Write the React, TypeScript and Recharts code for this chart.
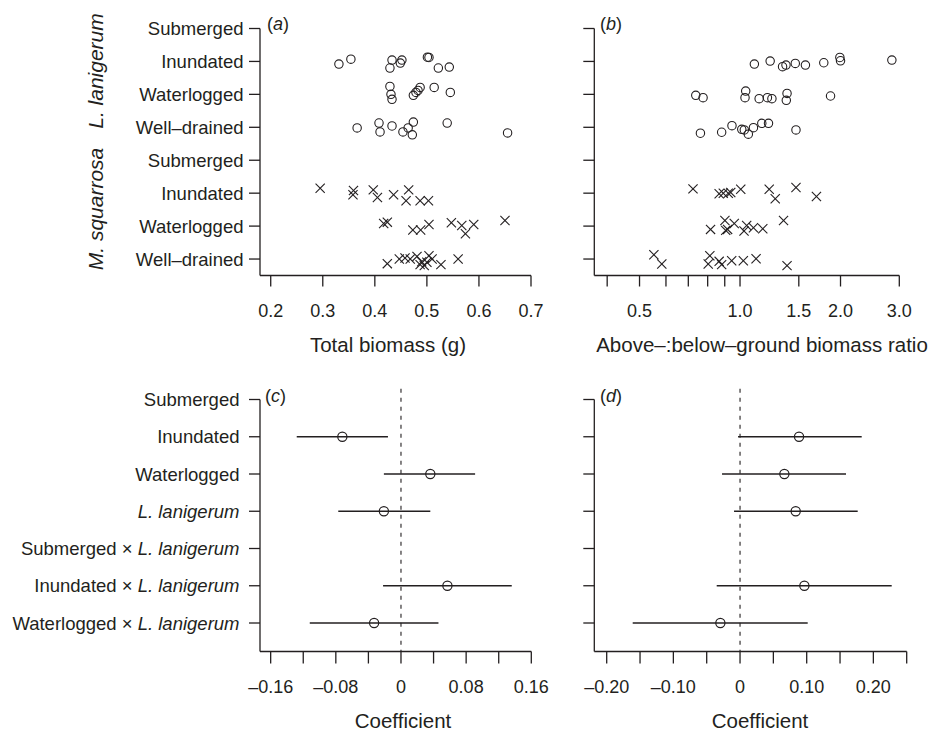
import React from 'react';
import { ScatterChart, Scatter, XAxis, YAxis, ErrorBar, ReferenceLine } from 'recharts';

const FONT = '"Liberation Sans", Arial, Helvetica, sans-serif';
const INK = '#231f20';

// rows of panels (a) and (b), top to bottom
const rowLabels = ['Submerged', 'Inundated', 'Waterlogged', 'Well–drained', 'Submerged', 'Inundated', 'Waterlogged', 'Well–drained'];
const rowValues = [8, 7, 6, 5, 4, 3, 2, 1];

// (a) total biomass (g): [value, vertical jitter in row units]
const aLanInundated = [[0.331, -0.08], [0.354, 0.07], [0.433, 0.04], [0.429, -0.2], [0.452, 0.04], [0.449, -0.05], [0.501, 0.13], [0.504, 0.12], [0.522, -0.2], [0.543, -0.17]];
const aLanWaterlogged = [[0.429, 0.24], [0.431, 0.0], [0.433, -0.15], [0.474, -0.03], [0.479, 0.06], [0.483, 0.12], [0.487, 0.21], [0.514, 0.21], [0.545, 0.06]];
const aLanWellDrained = [[0.366, -0.02], [0.408, 0.13], [0.41, -0.14], [0.433, 0.04], [0.454, -0.14], [0.464, -0.02], [0.474, 0.16], [0.472, -0.23], [0.539, 0.13], [0.655, -0.17]];
const aSqInundated = [[0.295, 0.15], [0.359, 0.08], [0.358, -0.05], [0.397, 0.1], [0.405, -0.13], [0.436, -0.05], [0.465, 0.1], [0.46, -0.23], [0.487, -0.23], [0.503, -0.23]];
const aSqWaterlogged = [[0.417, 0.08], [0.424, 0.12], [0.473, -0.12], [0.488, -0.12], [0.504, 0.05], [0.547, 0.1], [0.567, 0.02], [0.574, -0.23], [0.59, 0.05], [0.65, 0.17]];
const aSqWellDrained = [[0.424, -0.14], [0.447, 0.0], [0.458, 0.03], [0.468, 0.0], [0.481, 0.08], [0.487, -0.17], [0.49, -0.08], [0.495, -0.2], [0.5, -0.1], [0.504, 0.1], [0.51, 0.0], [0.527, -0.17], [0.56, 0.0]];

// (b) above:below-ground biomass ratio
const bLanInundated = [[1.104, -0.08], [1.231, 0.01], [1.341, -0.16], [1.373, -0.11], [1.464, -0.06], [1.57, -0.11], [1.782, -0.04], [1.991, 0.12], [2.0, 0.02], [2.85, 0.04]];
const bLanWaterlogged = [[0.737, -0.03], [0.775, -0.1], [1.04, 0.1], [1.035, -0.1], [1.141, -0.13], [1.208, -0.1], [1.246, -0.13], [1.383, 0.03], [1.376, -0.18], [1.867, -0.05]];
const bLanWellDrained = [[0.761, -0.18], [0.881, -0.15], [0.946, 0.05], [1.012, -0.06], [1.03, -0.08], [1.059, -0.21], [1.097, -0.01], [1.162, 0.12], [1.217, 0.12], [1.471, -0.08]];
const bSqInundated = [[0.723, 0.13], [0.866, -0.02], [0.891, 0.0], [0.922, 0.0], [0.938, 0.02], [1.005, 0.12], [1.223, 0.12], [1.275, -0.17], [1.471, 0.17], [1.694, -0.1]];
const bSqWaterlogged = [[0.816, -0.1], [0.901, 0.17], [0.906, -0.13], [0.918, -0.1], [0.961, 0.08], [1.028, -0.15], [1.047, 0.02], [1.097, -0.05], [1.17, -0.08], [1.35, 0.17]];
const bSqWellDrained = [[0.552, 0.13], [0.583, -0.15], [0.812, 0.1], [0.803, -0.15], [0.866, -0.07], [0.881, -0.17], [0.944, -0.05], [1.023, -0.05], [1.117, 0.01], [1.383, -0.2]];

const aXTicks = [0.2, 0.3, 0.4, 0.5, 0.6, 0.7];
const aXLabels = ['0.2', '0.3', '0.4', '0.5', '0.6', '0.7'];
const bXTicks = [0.4, 0.5, 0.6, 0.7, 0.8, 0.9, 1, 1.5, 2, 3];
const bXLabels = ['', '0.5', '', '', '', '', '1.0', '1.5', '2.0', '3.0'];

// (c) and (d) coefficients, top to bottom
const coefPlain = ['Submerged', 'Inundated', 'Waterlogged', '', 'Submerged × ', 'Inundated × ', 'Waterlogged × '];
const coefItalic = ['', '', '', 'L. lanigerum', 'L. lanigerum', 'L. lanigerum', 'L. lanigerum'];
const coefValues = [7, 6, 5, 4, 3, 2, 1];

const cEst = [null, -0.072, 0.036, -0.021, null, 0.057, -0.033];
const cLow = [null, -0.128, -0.021, -0.077, null, -0.022, -0.112];
const cHigh = [null, -0.016, 0.091, 0.036, null, 0.136, 0.046];
const dEst = [null, 0.0885, 0.0665, 0.0835, null, 0.0965, -0.0295];
const dLow = [null, -0.003, -0.027, -0.009, null, -0.035, -0.161];
const dHigh = [null, 0.1825, 0.159, 0.1765, null, 0.2275, 0.1015];

const cXTicks = [-0.16, -0.12, -0.08, -0.04, 0, 0.04, 0.08, 0.12, 0.16];
const cXLabels = ['–0.16', '', '–0.08', '', '0', '', '0.08', '', '0.16'];
const dXTicks = [-0.2, -0.15, -0.1, -0.05, 0, 0.05, 0.1, 0.15, 0.2, 0.25];
const dXLabels = ['–0.20', '', '–0.10', '', '0', '', '0.10', '', '0.20', ''];

const toPoints = (pts: number[][], row: number) => pts.map(([x, j]) => ({ x, y: row + j }));

const aLan = [...toPoints(aLanInundated, 7), ...toPoints(aLanWaterlogged, 6), ...toPoints(aLanWellDrained, 5)];
const aSq = [...toPoints(aSqInundated, 3), ...toPoints(aSqWaterlogged, 2), ...toPoints(aSqWellDrained, 1)];
const bLan = [...toPoints(bLanInundated, 7), ...toPoints(bLanWaterlogged, 6), ...toPoints(bLanWellDrained, 5)];
const bSq = [...toPoints(bSqInundated, 3), ...toPoints(bSqWaterlogged, 2), ...toPoints(bSqWellDrained, 1)];

const coefPoints = (est: any[], low: any[], high: any[]) =>
  coefValues
    .map((y, i) => (est[i] == null ? null : { x: est[i], y, err: [est[i] - low[i], high[i] - est[i]] }))
    .filter(Boolean);

const cData = coefPoints(cEst, cLow, cHigh);
const dData = coefPoints(dEst, dLow, dHigh);

const OpenCircle = (props: any) => (
  <circle cx={props.cx} cy={props.cy} r={4.2} fill="none" stroke={INK} strokeWidth={1.1} />
);
const BigCircle = (props: any) => (
  <circle cx={props.cx} cy={props.cy} r={4.6} fill="none" stroke={INK} strokeWidth={1.2} />
);
const Cross = (props: any) => {
  const { cx, cy } = props;
  const s = 4.6;
  return (
    <g stroke={INK} strokeWidth={1.1}>
      <line x1={cx - s} y1={cy - s} x2={cx + s} y2={cy + s} />
      <line x1={cx - s} y1={cy + s} x2={cx + s} y2={cy - s} />
    </g>
  );
};

const RowTick = ({ x, y, payload }: any) => (
  <text x={x} y={y} dy="0.355em" textAnchor="end" fontSize={18.5} fill={INK} fontFamily={FONT}>
    {rowLabels[rowValues.indexOf(payload.value)]}
  </text>
);

const CoefTick = ({ x, y, payload }: any) => {
  const i = coefValues.indexOf(payload.value);
  return (
    <text x={x} y={y} dy="0.355em" textAnchor="end" fontSize={18.5} fill={INK} fontFamily={FONT}>
      {coefPlain[i] && <tspan>{coefPlain[i]}</tspan>}
      {coefItalic[i] && <tspan fontStyle="italic">{coefItalic[i]}</tspan>}
    </text>
  );
};

const axisStyle = { stroke: INK, strokeWidth: 1.3 };
const tickFont = { fontSize: 18, fill: INK, fontFamily: FONT };
const blank = () => '';

export default function App() {
  return (
    <div style={{ position: 'absolute', left: 0, top: 0, width: 934, height: 731, background: '#fff', fontFamily: FONT }}>
      {/* (a) */}
      <div style={{ position: 'absolute', left: 0, top: 0 }}>
        <ScatterChart width={560} height={380} margin={{ top: 28.5, right: 29, bottom: 0, left: 0 }}>
          <XAxis type="number" dataKey="x" domain={[0.1794, 0.7]} ticks={aXTicks} interval={0} allowDataOverflow
            height={104.5} tickSize={11} tickMargin={18} axisLine={axisStyle} tickLine={axisStyle} tick={tickFont}
            tickFormatter={(v: number) => aXLabels[aXTicks.indexOf(v)]} />
          <YAxis type="number" dataKey="y" domain={[0.5, 8]} ticks={rowValues} interval={0} allowDataOverflow
            width={260} tickSize={11} tickMargin={5.5} axisLine={axisStyle} tickLine={axisStyle}
            tick={(p: any) => <RowTick {...p} />} />
          <Scatter data={aLan} shape={OpenCircle} isAnimationActive={false} />
          <Scatter data={aSq} shape={Cross} isAnimationActive={false} />
        </ScatterChart>
      </div>

      {/* (b) */}
      <div style={{ position: 'absolute', left: 560, top: 0 }}>
        <ScatterChart width={374} height={380} margin={{ top: 28.5, right: 34.7, bottom: 0, left: 0 }}>
          <XAxis type="number" dataKey="x" scale="log" domain={[0.366, 3]} ticks={bXTicks} interval={0} allowDataOverflow
            height={104.5} tickSize={11} tickMargin={18} axisLine={axisStyle} tickLine={axisStyle} tick={tickFont}
            tickFormatter={(v: number) => bXLabels[bXTicks.indexOf(v)]} />
          <YAxis type="number" dataKey="y" domain={[0.5, 8]} ticks={rowValues} interval={0} allowDataOverflow
            width={34.3} tickSize={11} axisLine={axisStyle} tickLine={axisStyle} tick={tickFont} tickFormatter={blank} />
          <Scatter data={bLan} shape={OpenCircle} isAnimationActive={false} />
          <Scatter data={bSq} shape={Cross} isAnimationActive={false} />
        </ScatterChart>
      </div>

      {/* (c) */}
      <div style={{ position: 'absolute', left: 0, top: 380 }}>
        <ScatterChart width={560} height={351} margin={{ top: 19.5, right: 28.7, bottom: 0, left: 0 }}>
          <XAxis type="number" dataKey="x" domain={[-0.1731, 0.16]} ticks={cXTicks} interval={0} allowDataOverflow
            height={79.5} tickSize={12} tickMargin={16.5} axisLine={axisStyle} tickLine={axisStyle} tick={tickFont}
            tickFormatter={(v: number) => cXLabels[cXTicks.indexOf(v)]} />
          <YAxis type="number" dataKey="y" domain={[0.235, 7]} ticks={coefValues} interval={0} allowDataOverflow
            width={260} tickSize={11} tickMargin={9.5} axisLine={axisStyle} tickLine={axisStyle}
            tick={(p: any) => <CoefTick {...p} />} />
          <ReferenceLine segment={[{ x: 0, y: 7.29 }, { x: 0, y: 0.235 }]} stroke={INK} strokeWidth={1.1}
            strokeDasharray="4 5" ifOverflow="visible" />
          <Scatter data={cData} shape={BigCircle} isAnimationActive={false}>
            <ErrorBar dataKey="err" direction="x" width={0} stroke={INK} strokeWidth={1.3} />
          </Scatter>
        </ScatterChart>
      </div>

      {/* (d) */}
      <div style={{ position: 'absolute', left: 560, top: 380 }}>
        <ScatterChart width={374} height={351} margin={{ top: 19.5, right: 27.3, bottom: 0, left: 0 }}>
          <XAxis type="number" dataKey="x" domain={[-0.2186, 0.25]} ticks={dXTicks} interval={0} allowDataOverflow
            height={79.5} tickSize={12} tickMargin={16.5} axisLine={axisStyle} tickLine={axisStyle} tick={tickFont}
            tickFormatter={(v: number) => dXLabels[dXTicks.indexOf(v)]} />
          <YAxis type="number" dataKey="y" domain={[0.235, 7]} ticks={coefValues} interval={0} allowDataOverflow
            width={34.3} tickSize={11} axisLine={axisStyle} tickLine={axisStyle} tick={tickFont} tickFormatter={blank} />
          <ReferenceLine segment={[{ x: 0, y: 7.29 }, { x: 0, y: 0.235 }]} stroke={INK} strokeWidth={1.1}
            strokeDasharray="4 5" ifOverflow="visible" />
          <Scatter data={dData} shape={BigCircle} isAnimationActive={false}>
            <ErrorBar dataKey="err" direction="x" width={0} stroke={INK} strokeWidth={1.3} />
          </Scatter>
        </ScatterChart>
      </div>

      {/* titles and panel letters */}
      <svg width={934} height={731} style={{ position: 'absolute', left: 0, top: 0, pointerEvents: 'none' }}
        fontFamily={FONT} fill={INK}>
        <text x={267} y={29.5} fontSize={18}>(<tspan fontStyle="italic">a</tspan>)</text>
        <text x={600} y={29.5} fontSize={18}>(<tspan fontStyle="italic">b</tspan>)</text>
        <text x={265} y={401.5} fontSize={18}>(<tspan fontStyle="italic">c</tspan>)</text>
        <text x={600} y={401.5} fontSize={18}>(<tspan fontStyle="italic">d</tspan>)</text>
        <text x={388} y={352} fontSize={20.5} textAnchor="middle">Total biomass (g)</text>
        <text x={762} y={352} fontSize={20.5} textAnchor="middle">Above–:below–ground biomass ratio</text>
        <text x={403} y={728} fontSize={20.5} textAnchor="middle">Coefficient</text>
        <text x={760} y={728} fontSize={20.5} textAnchor="middle">Coefficient</text>
        <text transform="translate(103,71) rotate(-90)" fontSize={21} fontStyle="italic" textAnchor="middle">L. lanigerum</text>
        <text transform="translate(103,209) rotate(-90)" fontSize={21} fontStyle="italic" textAnchor="middle">M. squarrosa</text>
      </svg>
    </div>
  );
}
